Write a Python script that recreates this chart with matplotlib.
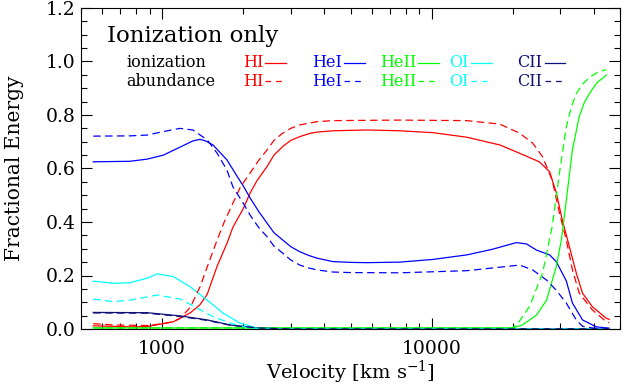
import numpy as np
import matplotlib.pyplot as plt
from matplotlib.lines import Line2D
from matplotlib.ticker import LogLocator, MultipleLocator, FixedLocator, FixedFormatter, NullFormatter

plt.rcParams['font.family'] = 'DejaVu Serif'
plt.rcParams['mathtext.fontset'] = 'dejavuserif'

## Data: velocity [km/s] vs fractional energy
# HI
hi_ion_v = [555, 760, 880, 1100, 1270, 1380, 1470, 1600, 1740, 1830, 2000, 2120, 2250, 2450, 2600, 2800,
            3000, 3240, 3500, 3750, 4300, 5750, 7600, 10100, 13500, 17900, 21200, 25100, 27400,
            29000, 30500, 32400, 34400, 36300, 39500, 44500, 45600]
hi_ion_f = [0.012, 0.008, 0.009, 0.027, 0.06, 0.09, 0.13, 0.235, 0.32, 0.38, 0.45, 0.508, 0.555, 0.607, 0.65, 0.682,
            0.705, 0.719, 0.73, 0.736, 0.741, 0.744, 0.741, 0.734, 0.717, 0.688, 0.657, 0.625, 0.588,
            0.51, 0.41, 0.31, 0.21, 0.134, 0.083, 0.04, 0.036]
hi_ab_v = [555, 660, 880, 1010, 1100, 1166, 1270, 1383, 1480, 1600, 1700, 1830, 1950, 2120, 2280,
           2450, 2600, 2800, 3000, 3240, 3750, 4300, 7600, 13500, 17900, 21200, 23700, 25800,
           28000, 29800, 31600, 33300, 35300, 39500, 44500, 45600]
hi_ab_f = [0.02, 0.015, 0.013, 0.02, 0.027, 0.04, 0.08, 0.158, 0.24, 0.333, 0.40, 0.47, 0.53, 0.583, 0.63,
           0.669, 0.705, 0.732, 0.75, 0.763, 0.775, 0.779, 0.781, 0.779, 0.766, 0.732, 0.695, 0.644,
           0.557, 0.434, 0.333, 0.221, 0.134, 0.071, 0.027, 0.024]

# HeI
hei_ion_v = [555, 760, 880, 1010, 1166, 1300, 1383, 1450, 1545, 1740, 1900, 2000, 2120, 2280, 2450,
             2600, 2800, 3000, 3240, 3500, 3750, 4300, 5000, 5750, 7600, 10100, 13500, 16800,
             20600, 22500, 24500, 27400, 29000, 31600, 33300, 36300, 40800, 45600]
hei_ion_f = [0.625, 0.627, 0.635, 0.65, 0.68, 0.703, 0.709, 0.703, 0.688, 0.632, 0.57, 0.535, 0.49, 0.44, 0.396,
             0.36, 0.333, 0.308, 0.289, 0.275, 0.265, 0.252, 0.249, 0.248, 0.25, 0.26, 0.277, 0.298,
             0.323, 0.318, 0.295, 0.277, 0.252, 0.18, 0.097, 0.034, 0.008, 0.003]
hei_ab_v = [555, 760, 880, 1010, 1166, 1300, 1470, 1600, 1740, 1830, 2000, 2120, 2280, 2450, 2600,
            2800, 3000, 3240, 3500, 3750, 4300, 5000, 7600, 13500, 16800, 21200, 23700, 26700,
            29000, 31600, 34400, 36300, 40000, 45600]
hei_ab_f = [0.721, 0.722, 0.725, 0.738, 0.75, 0.744, 0.707, 0.657, 0.594, 0.532, 0.47, 0.426, 0.38, 0.345, 0.31,
            0.284, 0.258, 0.239, 0.228, 0.221, 0.213, 0.211, 0.21, 0.218, 0.228, 0.239, 0.221, 0.183,
            0.145, 0.097, 0.034, 0.01, 0.003, 0.002]

# HeII
heii_ion_v = [555, 5000, 19950, 21700, 24500, 26700, 29000, 30300, 31600, 33300, 35300, 36800,
              38500, 41000, 44500]
heii_ion_f = [0.004, 0.004, 0.004, 0.015, 0.052, 0.108, 0.233, 0.333, 0.48, 0.67, 0.794, 0.845,
              0.88, 0.92, 0.949]
heii_ab_v = [555, 5000, 19950, 21200, 23100, 25800, 28000, 29800, 31600, 33000, 34400, 36300,
             38500, 41000, 44500]
heii_ab_f = [0.004, 0.004, 0.004, 0.03, 0.085, 0.209, 0.382, 0.583, 0.755, 0.83, 0.88, 0.915,
             0.94, 0.958, 0.97]

# OI
oi_ion_v = [555, 660, 760, 880, 958, 1100, 1270, 1470, 1680, 1945, 2250, 3000, 45600]
oi_ion_f = [0.179, 0.171, 0.173, 0.19, 0.206, 0.196, 0.158, 0.108, 0.06, 0.022, 0.004, 0.0, 0.0]
oi_ab_v = [555, 660, 760, 958, 1166, 1350, 1545, 1790, 2065, 2500, 45600]
oi_ab_f = [0.112, 0.102, 0.108, 0.127, 0.112, 0.078, 0.046, 0.022, 0.005, 0.0, 0.0]

# CII
cii_ion_v = [555, 880, 1166, 1470, 1790, 2250, 3000, 45600]
cii_ion_f = [0.062, 0.061, 0.049, 0.034, 0.015, 0.004, 0.0, 0.0]
cii_ab_v = [555, 880, 1166, 1470, 1790, 2250, 3000, 45600]
cii_ab_f = [0.060, 0.059, 0.047, 0.032, 0.014, 0.004, 0.0, 0.0]

species = ['HI', 'HeI', 'HeII', 'OI', 'CII']
colors = ['#ff0000', '#0000ff', '#00ff00', '#00ffff', '#10107a']
ion_curves = [(hi_ion_v, hi_ion_f), (hei_ion_v, hei_ion_f), (heii_ion_v, heii_ion_f),
              (oi_ion_v, oi_ion_f), (cii_ion_v, cii_ion_f)]
ab_curves = [(hi_ab_v, hi_ab_f), (hei_ab_v, hei_ab_f), (heii_ab_v, heii_ab_f),
             (oi_ab_v, oi_ab_f), (cii_ab_v, cii_ab_f)]

dash = (0, (6, 3.5))

fig = plt.figure(figsize=(6.24, 3.85), dpi=100)
W, H = 624., 385.
ax = fig.add_axes([81/W, 56/H, 539/W, 321/H])

for (v, f), c in zip(ion_curves, colors):
    ax.plot(v, f, color=c, lw=0.9)
for (v, f), c in zip(ab_curves, colors):
    ax.plot(v, f, color=c, lw=0.9, linestyle=dash)

ax.set_xscale('log')
ax.set_xlim(500, 50000)
ax.set_ylim(0, 1.2)

ax.xaxis.set_major_locator(FixedLocator([1000, 10000]))
ax.xaxis.set_major_formatter(FixedFormatter(['1000', '10000']))
ax.xaxis.set_minor_locator(LogLocator(base=10, subs=np.arange(2, 10)))
ax.xaxis.set_minor_formatter(NullFormatter())
ax.yaxis.set_major_locator(MultipleLocator(0.2))
ax.yaxis.set_minor_locator(MultipleLocator(0.05))
ax.yaxis.set_major_formatter(plt.FormatStrFormatter('%.1f'))

ax.tick_params(which='both', direction='in', top=True, right=True, width=0.8, labelsize=13.5)
ax.tick_params(which='major', length=8)
ax.tick_params(which='minor', length=4)
ax.tick_params(axis='x', pad=8)
ax.tick_params(axis='y', pad=4)
for s in ax.spines.values():
    s.set_linewidth(0.8)

ax.set_ylabel('Fractional Energy', fontsize=14.5)
ax.set_xlabel('Velocity [km s$^{-1}$]', fontsize=14)
ax.xaxis.set_label_coords(0.5, -0.135, transform=ax.transAxes)
ax.xaxis.label.set_va('center')
ax.yaxis.set_label_coords(-0.105, 0.5)

# legend drawn by hand, IDL-style
def fx(x):
    return x / W

def fy(y):
    return 1 - y / H

fig.text(fx(107), fy(42), 'Ionization only', fontsize=16.5, va='baseline')
fig.text(fx(126), fy(67), 'ionization', fontsize=11.5, va='baseline')
fig.text(fx(126), fy(85.5), 'abundance', fontsize=11.5, va='baseline')

text_x = [243, 312, 380, 449, 517]
line_x = [(265, 286), (344, 365), (418, 439), (471, 492), (545, 565)]
for name, c, tx, (l0, l1) in zip(species, colors, text_x, line_x):
    fig.text(fx(tx), fy(67), name, fontsize=11.5, color=c, va='baseline')
    fig.text(fx(tx), fy(85.5), name, fontsize=11.5, color=c, va='baseline')
    fig.add_artist(Line2D([fx(l0), fx(l1)], [fy(63), fy(63)], color=c, lw=0.9,
                          transform=fig.transFigure))
    fig.add_artist(Line2D([fx(l0), fx(l1)], [fy(81), fy(81)], color=c, lw=0.9,
                          linestyle=(0, (4.5, 4)), transform=fig.transFigure))

fig.savefig('out.png', dpi=100)
